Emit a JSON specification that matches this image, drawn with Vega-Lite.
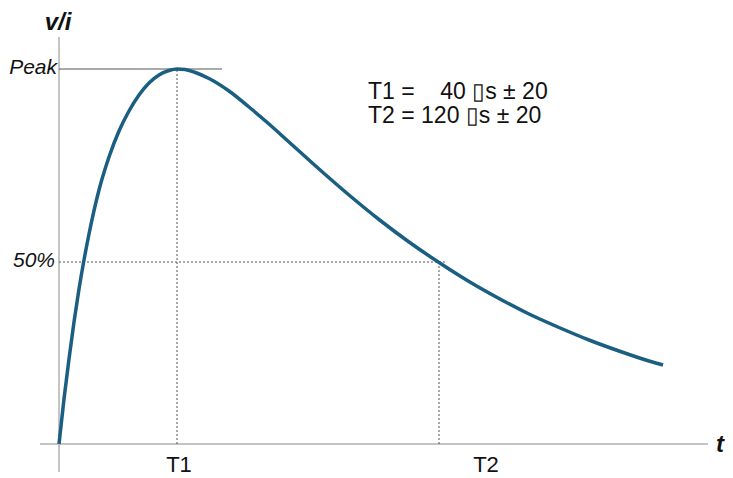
{
  "$schema": "https://vega.github.io/schema/vega-lite/v6.json",
  "width": 733,
  "height": 478,
  "padding": 0,
  "autosize": {"type": "fit", "contains": "padding"},
  "background": "white",
  "config": {"view": {"stroke": null}},
  "datasets": {
    "curve": [
      {"t": 0, "v": 0}, {"t": 5, "v": 45}, {"t": 10, "v": 85}, {"t": 15, "v": 122},
      {"t": 20, "v": 155}, {"t": 25, "v": 184}, {"t": 30, "v": 210}, {"t": 40, "v": 254},
      {"t": 50, "v": 287}, {"t": 60, "v": 313}, {"t": 70, "v": 333}, {"t": 80, "v": 349},
      {"t": 90, "v": 361}, {"t": 100, "v": 369}, {"t": 110, "v": 373.5}, {"t": 118, "v": 375},
      {"t": 126, "v": 374.5}, {"t": 135, "v": 372}, {"t": 150, "v": 365.5}, {"t": 170, "v": 353},
      {"t": 190, "v": 337}, {"t": 210, "v": 320}, {"t": 230, "v": 302}, {"t": 260, "v": 275},
      {"t": 290, "v": 249}, {"t": 320, "v": 224.5}, {"t": 350, "v": 202}, {"t": 380, "v": 181.5},
      {"t": 410, "v": 162.5}, {"t": 440, "v": 145.5}, {"t": 470, "v": 130}, {"t": 500, "v": 116.5},
      {"t": 530, "v": 104}, {"t": 560, "v": 93}, {"t": 590, "v": 83}, {"t": 604, "v": 79}
    ],
    "axes": [
      {"t": 0, "t2": 0, "v": -28, "v2": 407},
      {"t": -19, "t2": 649, "v": 0, "v2": 0}
    ],
    "peak": [{"t": 0, "t2": 163, "v": 375, "v2": 375}],
    "guides": [
      {"t": 118, "t2": 118, "v": 0, "v2": 375},
      {"t": 0, "t2": 388, "v": 182, "v2": 182},
      {"t": 380, "t2": 380, "v": 0, "v2": 182}
    ],
    "italicLabels": [
      {"t": -2, "v": 370, "label": "Peak"},
      {"t": -4, "v": 177, "label": "50%"}
    ],
    "boldLabels": [
      {"t": -1, "v": 414, "label": "v/i"},
      {"t": 661, "v": -8, "label": "t"}
    ],
    "tickLabels": [
      {"t": 120, "v": -28, "label": "T1"},
      {"t": 427, "v": -28, "label": "T2"}
    ],
    "info": [
      {"t": 309, "v": 345, "label": "T1 =\u00a0\u00a0\u00a0\u00a040\u00a0▯s\u00a0±\u00a020%"},
      {"t": 309, "v": 321, "label": "T2 = 120\u00a0▯s\u00a0±\u00a020%"}
    ]
  },
  "encoding": {
    "x": {"field": "t", "type": "quantitative", "scale": {"domain": [-59, 674], "nice": false, "zero": false}, "axis": null},
    "y": {"field": "v", "type": "quantitative", "scale": {"domain": [-34, 444], "nice": false, "zero": false}, "axis": null}
  },
  "layer": [
    {
      "data": {"name": "axes"},
      "mark": {"type": "rule", "color": "#c4c4c4", "strokeWidth": 2},
      "encoding": {"x2": {"field": "t2"}, "y2": {"field": "v2"}}
    },
    {
      "data": {"name": "guides"},
      "mark": {"type": "rule", "color": "#555555", "strokeWidth": 1, "strokeDash": [2, 2]},
      "encoding": {"x2": {"field": "t2"}, "y2": {"field": "v2"}}
    },
    {
      "data": {"name": "peak"},
      "mark": {"type": "rule", "color": "#555555", "strokeWidth": 1.2},
      "encoding": {"x2": {"field": "t2"}, "y2": {"field": "v2"}}
    },
    {
      "data": {"name": "curve"},
      "mark": {"type": "line", "color": "#1a5e82", "strokeWidth": 3.5, "interpolate": "monotone", "strokeCap": "butt"},
      "encoding": {"order": {"field": "t", "type": "quantitative"}}
    },
    {
      "data": {"name": "italicLabels"},
      "mark": {"type": "text", "font": "Liberation Sans", "fontSize": 21, "fontStyle": "italic", "align": "right", "baseline": "alphabetic", "color": "#111111"},
      "encoding": {"text": {"field": "label"}}
    },
    {
      "data": {"name": "boldLabels"},
      "mark": {"type": "text", "font": "Liberation Sans", "fontSize": 24, "fontStyle": "italic", "fontWeight": "bold", "align": "center", "baseline": "alphabetic", "color": "#111111"},
      "encoding": {"text": {"field": "label"}}
    },
    {
      "data": {"name": "tickLabels"},
      "mark": {"type": "text", "font": "Liberation Sans", "fontSize": 22, "align": "center", "baseline": "alphabetic", "color": "#111111"},
      "encoding": {"text": {"field": "label"}}
    },
    {
      "data": {"name": "info"},
      "mark": {"type": "text", "font": "Liberation Sans", "fontSize": 23, "align": "left", "baseline": "alphabetic", "color": "#111111", "limit": 182, "ellipsis": "\u200b"},
      "encoding": {"text": {"field": "label"}}
    }
  ]
}
